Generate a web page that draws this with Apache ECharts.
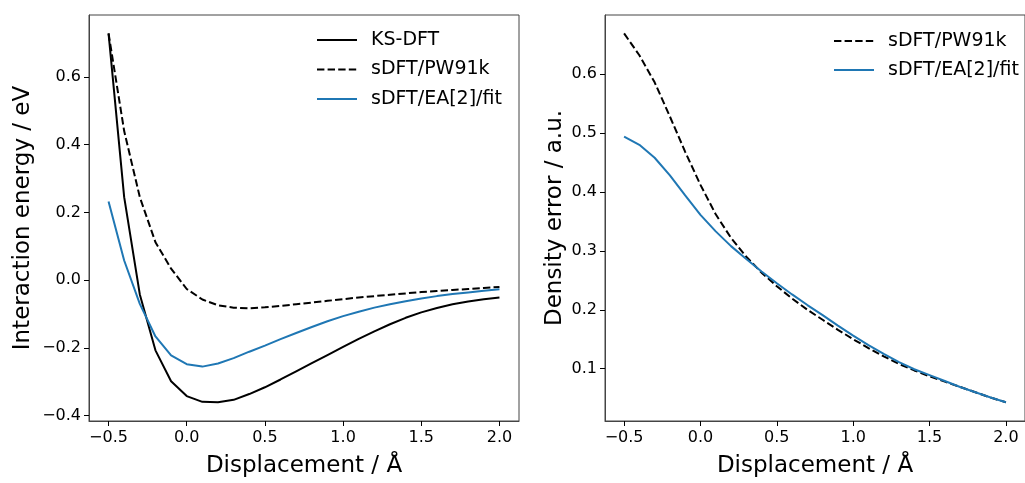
<!DOCTYPE html>
<html>
<head>
<meta charset="utf-8">
<script src="https://cdn.jsdelivr.net/npm/echarts@6/dist/echarts.min.js"></script>
<style>
html,body{margin:0;padding:0;background:#fff;}
#chart{width:1025px;height:483px;}
</style>
</head>
<body>
<div id="chart"></div>
<script>
// Displacement (Å)
var displacement = [-0.5,-0.4,-0.3,-0.2,-0.1,0.0,0.1,0.2,0.3,0.4,0.5,0.6,0.7,0.8,0.9,1.0,1.1,1.2,1.3,1.4,1.5,1.6,1.7,1.8,1.9,2.0];

// Left panel: interaction energy (eV)
var energyKS = [0.728,0.245,-0.042,-0.207,-0.298,-0.342,-0.359,-0.360,-0.353,-0.336,-0.316,-0.293,-0.269,-0.245,-0.221,-0.197,-0.173,-0.151,-0.130,-0.111,-0.095,-0.082,-0.071,-0.063,-0.056,-0.051];
var energyPW91k = [0.728,0.440,0.245,0.112,0.034,-0.026,-0.057,-0.074,-0.081,-0.083,-0.080,-0.076,-0.071,-0.066,-0.061,-0.056,-0.051,-0.047,-0.043,-0.039,-0.035,-0.032,-0.029,-0.026,-0.023,-0.020];
var energyEA2 = [0.232,0.058,-0.070,-0.166,-0.222,-0.248,-0.255,-0.246,-0.230,-0.211,-0.193,-0.174,-0.156,-0.138,-0.121,-0.106,-0.093,-0.081,-0.071,-0.062,-0.054,-0.047,-0.041,-0.036,-0.031,-0.027];

// Right panel: density error (a.u.)
var densPW91k = [0.669,0.632,0.586,0.528,0.468,0.412,0.362,0.322,0.290,0.263,0.240,0.219,0.200,0.183,0.166,0.150,0.135,0.121,0.108,0.097,0.087,0.078,0.069,0.060,0.051,0.043];
var densEA2 = [0.494,0.480,0.458,0.428,0.394,0.361,0.333,0.308,0.286,0.265,0.245,0.226,0.208,0.191,0.173,0.156,0.140,0.125,0.111,0.099,0.089,0.079,0.069,0.060,0.051,0.043];

// Tick values
var xTicks = [-0.5,0.0,0.5,1.0,1.5,2.0];
var yTicksLeft = [-0.4,-0.2,0.0,0.2,0.4,0.6];
var yTicksRight = [0.1,0.2,0.3,0.4,0.5,0.6];

function pairs(xs, ys){ return xs.map(function(x,i){ return [x, ys[i]]; }); }
function fmt(v){ return v.toFixed(1).replace('-', '\u2212'); }

var FONT = 'DejaVu Sans';
var BLUE = '#1f77b4';
var DASH = [7.4, 3.2];
var SPINE = '#444';

function xAxisCfg(gi){
  return {
    type:'value', gridIndex:gi, min:-0.625, max:2.125,
    name:'Displacement / \u00c5', nameLocation:'middle', nameGap:34,
    nameTextStyle:{fontFamily:FONT, fontSize:23, color:'#000'},
    axisLine:{show:true, onZero:false, lineStyle:{color:SPINE, width:1}},
    axisTick:{show:true, length:5, inside:false, customValues:xTicks, lineStyle:{color:'#000', width:1}},
    axisLabel:{show:true, customValues:xTicks, margin:9, fontFamily:FONT, fontSize:16, color:'#000', formatter:fmt},
    splitLine:{show:false}
  };
}
function yAxisCfg(gi, mn, mx, ticks, name, gap){
  return {
    type:'value', gridIndex:gi, min:mn, max:mx,
    name:name, nameLocation:'middle', nameGap:gap,
    nameTextStyle:{fontFamily:FONT, fontSize:23, color:'#000'},
    axisLine:{show:true, onZero:false, lineStyle:{color:SPINE, width:1}},
    axisTick:{show:true, length:5, inside:false, customValues:ticks, lineStyle:{color:'#000', width:1}},
    axisLabel:{show:true, customValues:ticks, margin:8, fontFamily:FONT, fontSize:16, color:'#000', formatter:fmt},
    splitLine:{show:false}
  };
}

function line(name, gi, ys, color, dashed){
  return {
    name:name, type:'line', xAxisIndex:gi, yAxisIndex:gi,
    data:pairs(displacement, ys), symbol:'none', showSymbol:false, smooth:false,
    lineStyle:{color:color, width:2, type: dashed ? DASH : 'solid'},
    itemStyle:{color:color}, animation:false, z:3
  };
}

var legendText = {fontFamily:FONT, fontSize:19, color:'#000', lineHeight:20, padding:[0,0,0,9]};

var chart = echarts.init(document.getElementById('chart'), null, {renderer:'canvas'});
chart.setOption({
  backgroundColor:'#fff',
  animation:false,
  grid:[
    {left:89, top:15, width:430, height:412, show:true, borderColor:SPINE, borderWidth:1, backgroundColor:'transparent'},
    {left:605, top:15, width:431, height:412, show:true, borderColor:SPINE, borderWidth:1, backgroundColor:'transparent'}
  ],
  xAxis:[xAxisCfg(0), xAxisCfg(1)],
  yAxis:[
    yAxisCfg(0, -0.4155, 0.7825, yTicksLeft, 'Interaction energy / eV', 54),
    yAxisCfg(1, 0.0112, 0.7003, yTicksRight, 'Density error / a.u.', 38)
  ],
  legend:[
    {data:['KS-DFT','sDFT/PW91k','sDFT/EA[2]/fit'], orient:'vertical', left:316, top:30, padding:0,
     itemWidth:40, itemHeight:14, itemGap:9.5, selectedMode:false,
     itemStyle:{opacity:0, borderWidth:0},
     textStyle:legendText},
    {data:['sDFT/PW91k','sDFT/EA[2]/fit'], orient:'vertical', left:833, top:31, padding:0,
     itemWidth:40, itemHeight:14, itemGap:9, selectedMode:false,
     itemStyle:{opacity:0, borderWidth:0},
     textStyle:legendText}
  ],
  series:[
    line('KS-DFT', 0, energyKS, '#000', false),
    line('sDFT/PW91k', 0, energyPW91k, '#000', true),
    line('sDFT/EA[2]/fit', 0, energyEA2, BLUE, false),
    line('sDFT/PW91k', 1, densPW91k, '#000', true),
    line('sDFT/EA[2]/fit', 1, densEA2, BLUE, false)
  ]
});
</script>
</body>
</html>
